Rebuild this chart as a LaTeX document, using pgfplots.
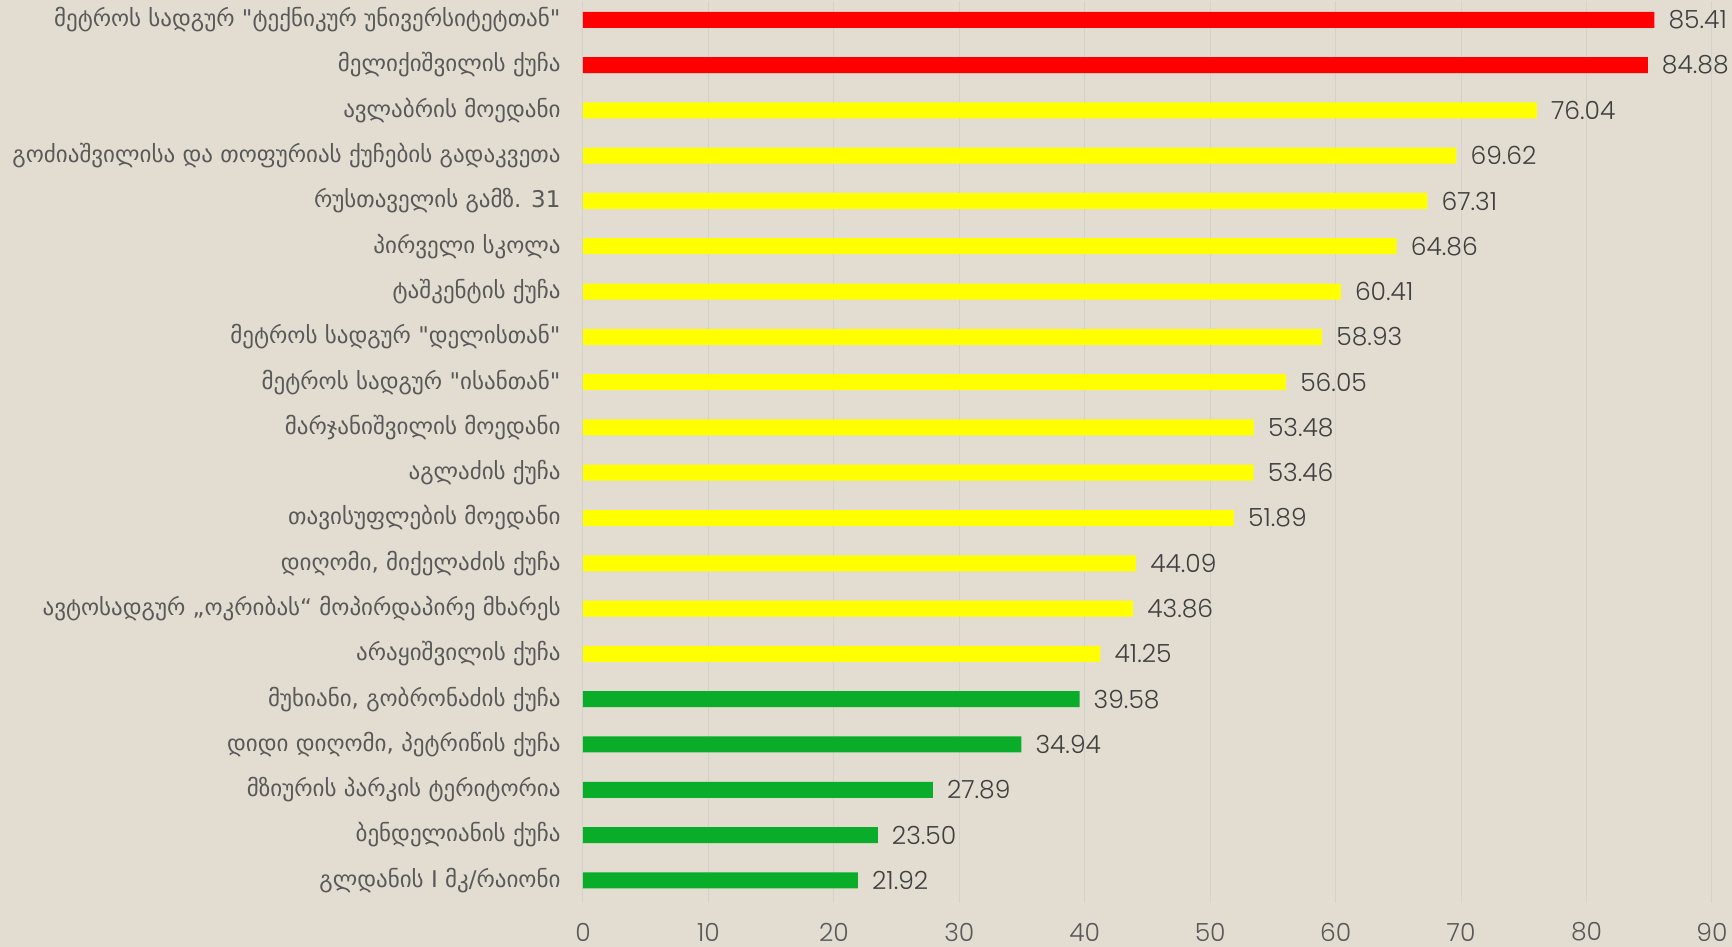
\documentclass[border=0pt]{standalone}
\usepackage{pgfplots}
\pgfplotsset{compat=1.18}
\usepackage{fontspec}
\setmainfont{DejaVu Sans}
\newfontfamily\geofont{DejaVu Sans}
\newfontfamily\numfont{Poppins Light}
\definecolor{bg}{HTML}{E3DDD1}
\definecolor{gridc}{HTML}{D3D1CB}
\definecolor{lblc}{HTML}{595959}
\definecolor{numc}{HTML}{404040}
\definecolor{barred}{HTML}{FF0000}
\definecolor{baryel}{HTML}{FFFF00}
\definecolor{bargrn}{HTML}{0AAD29}
\begin{document}
\begin{tikzpicture}[x=1pt,y=1pt]
\path[use as bounding box, fill=bg] (0,0) rectangle (1732,947);
\begin{axis}[
  at={(583pt,44pt)}, anchor=south west,
  scale only axis, width=1129pt, height=902pt,
  xbar, bar width=16pt, bar shift=0pt,
  xmin=0, xmax=90, ymin=-0.5, ymax=19.415,
  axis line style={draw=none},
  xtick={0,10,...,90},
  xmajorgrids, major grid style={draw=gridc, line width=1pt},
  tick style={draw=none},
  ytick={0,...,19},
  /pgf/number format/assume math mode=true,
  xticklabel style={inner sep=0pt, anchor=center, yshift=-29pt, font=\numfont\fontsize{25}{25}\selectfont, text=lblc},
  yticklabel style={inner sep=0pt, xshift=-18pt, font=\geofont\fontsize{23}{23}\selectfont, text=lblc},
  yticklabels={
    {გლდანის I მკ/რაიონი},
    {ბენდელიანის ქუჩა},
    {მზიურის პარკის ტერიტორია},
    {დიდი დიღომი, პეტრიწის ქუჩა},
    {მუხიანი, გობრონაძის ქუჩა},
    {არაყიშვილის ქუჩა},
    {ავტოსადგურ „ოკრიბას“ მოპირდაპირე მხარეს},
    {დიღომი, მიქელაძის ქუჩა},
    {თავისუფლების მოედანი},
    {აგლაძის ქუჩა},
    {მარჯანიშვილის მოედანი},
    {მეტროს სადგურ "ისანთან"},
    {მეტროს სადგურ "დელისთან"},
    {ტაშკენტის ქუჩა},
    {პირველი სკოლა},
    {რუსთაველის გამზ. 31},
    {გოძიაშვილისა და თოფურიას ქუჩების გადაკვეთა},
    {ავლაბრის მოედანი},
    {მელიქიშვილის ქუჩა},
    {მეტროს სადგურ "ტექნიკურ უნივერსიტეტთან"}
  },
  nodes near coords,
  nodes near coords style={font=\numfont\fontsize{25}{25}\selectfont, text=numc, inner sep=0pt, xshift=14pt,
    /pgf/number format/.cd, fixed, fixed zerofill, precision=2},
]
\addplot[draw=none, fill=bargrn] coordinates {(21.92,0) (23.50,1) (27.89,2) (34.94,3) (39.58,4)};
\addplot[draw=none, fill=baryel] coordinates {(41.25,5) (43.86,6) (44.09,7) (51.89,8) (53.46,9) (53.48,10) (56.05,11) (58.93,12) (60.41,13) (64.86,14) (67.31,15) (69.62,16) (76.04,17)};
\addplot[draw=none, fill=barred] coordinates {(84.88,18) (85.41,19)};
\end{axis}
\end{tikzpicture}
\end{document}
